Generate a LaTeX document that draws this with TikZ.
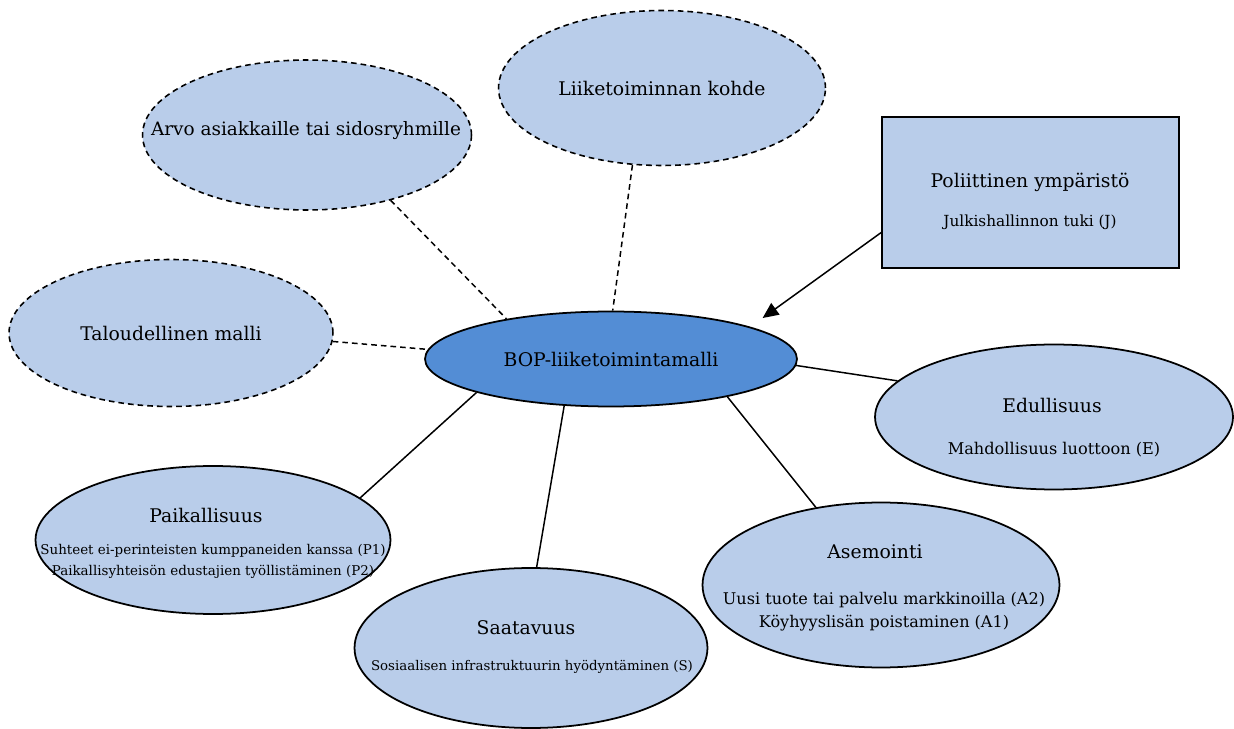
\documentclass[tikz,border=0pt]{standalone}
\usepackage{fontspec}
\setmainfont{DejaVu Serif}
\usetikzlibrary{shapes.geometric,arrows.meta}

\definecolor{lightblue}{RGB}{185,205,234}
\definecolor{midblue}{RGB}{83,141,213}

\tikzset{
    bubble/.style={ellipse,draw,line width=1pt,fill=lightblue,inner sep=0pt},
    dashbubble/.style={bubble,line width=0.9pt,dash pattern=on 3.2pt off 2.3pt},
    title/.style={font=\fontsize{10.7}{13}\selectfont},
    sub/.style={font=\fontsize{8.5}{12}\selectfont,align=center},
    link/.style={line width=0.85pt},
    dashlink/.style={line width=0.85pt,dash pattern=on 3.2pt off 2.3pt}
}

\begin{document}
\begin{tikzpicture}[x=0.02cm,y=-0.02cm]
        \useasboundingbox (0,0) rectangle (1234,729);

        % the model in the middle
        \node[bubble,fill=midblue,minimum width=7.44cm,minimum height=1.9cm,title] (bop) at (611,359) {BOP-liiketoimintamalli};

        % dashed bubbles
        \node[dashbubble,minimum width=6.58cm,minimum height=3cm] (arvo) at (307,135) {};
        \node[title,font=\fontsize{10.5}{13}\selectfont] at (306,131) {Arvo asiakkaille tai sidosryhmille};
        \node[dashbubble,minimum width=6.54cm,minimum height=3.1cm,title] (kohde) at (662,88) {Liiketoiminnan kohde};
        \node[dashbubble,minimum width=6.48cm,minimum height=2.94cm,title] (talous) at (171,333) {Taloudellinen malli};

        % political environment
        \node[draw,rectangle,line width=0.9pt,fill=lightblue,minimum width=5.94cm,minimum height=3.02cm] (pol) at (1030.5,192.5) {};
        \node[title] at (1030,182) {Poliittinen ympäristö};
        \node[sub,font=\fontsize{8.7}{12}\selectfont] at (1030,222) {Julkishallinnon tuki (J)};

        % solid bubbles
        \node[bubble,minimum width=7.16cm,minimum height=2.9cm] (edu) at (1054,417) {};
        \node[title] at (1052,405) {Edullisuus};
        \node[sub,font=\fontsize{9.2}{12}\selectfont] at (1054,450) {Mahdollisuus luottoon (E)};

        \node[bubble,minimum width=7.1cm,minimum height=2.96cm] (paik) at (213,540) {};
        \node[title] at (206,515) {Paikallisuus};
        \node[sub,font=\fontsize{7.65}{11.9}\selectfont] at (213,561.5) {Suhteet ei-perinteisten kumppaneiden kanssa (P1)\\Paikallisyhteisön edustajien työllistäminen (P2)};

        \node[bubble,minimum width=7.06cm,minimum height=3.2cm] (saat) at (531,648) {};
        \node[title] at (526,628) {Saatavuus};
        \node[sub,font=\fontsize{7.6}{12}\selectfont] at (532,667) {Sosiaalisen infrastruktuurin hyödyntäminen (S)};

        \node[bubble,minimum width=7.14cm,minimum height=3.3cm] (asem) at (881,585) {};
        \node[title] at (875,552) {Asemointi};
        \node[sub,font=\fontsize{9.15}{13}\selectfont] at (884,611.5) {Uusi tuote tai palvelu markkinoilla (A2)\\Köyhyyslisän poistaminen (A1)};

        \draw[dashlink] (arvo.-38.6) -- (bop.159.3);
        \draw[dashlink] (kohde.249.4) -- (bop.88.8);
        \draw[dashlink] (talous.-3.4) -- (bop.177.8);

        \draw[link,-{Triangle[length=9pt,width=8pt]},shorten >=0.3cm] (pol.195.25) -- (bop.13.4);

        \draw[link] (bop.-2.2) -- (edu.167.7);
        \draw[link] (bop.194.2) -- (paik.16.7);
        \draw[link] (bop.225) -- (saat.86.4);
        \draw[link] (bop.-18.3) -- (asem.130.7);
    \end{tikzpicture}
\end{document}
